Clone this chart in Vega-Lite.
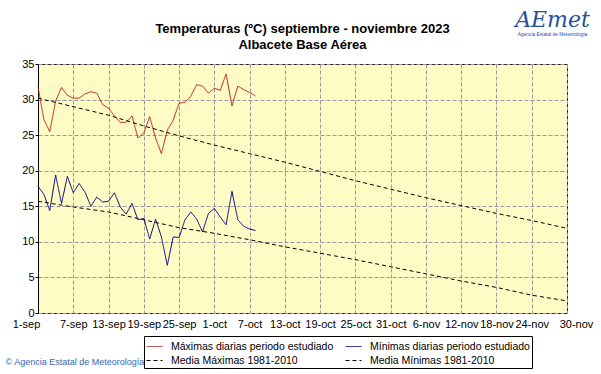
{
  "$schema": "https://vega.github.io/schema/vega-lite/v6.json",
  "autosize": "none",
  "width": 529,
  "height": 249,
  "padding": {"left": 38, "top": 64, "right": 34, "bottom": 61},
  "background": "white",
  "config": {
    "font": "Liberation Sans",
    "view": {"fill": "#FFFBC4", "stroke": "black", "strokeWidth": 1},
    "axis": {
      "gridColor": "#9a9a9a",
      "gridDash": [4, 2],
      "gridWidth": 1,
      "labelFontSize": 11,
      "labelColor": "black",
      "domainColor": "black",
      "tickColor": "black"
    },
    "legend": {
      "orient": "none",
      "legendX": 106,
      "legendY": 272,
      "columns": 2,
      "columnPadding": 9,
      "rowPadding": 0,
      "padding": 2,
      "strokeColor": "black",
      "fillColor": "white",
      "symbolType": "stroke",
      "symbolSize": 256,
      "symbolStrokeWidth": 1,
      "labelFontSize": 10.5,
      "labelColor": "black",
      "labelOffset": 8,
      "labelLimit": 300
    },
    "title": {
      "font": "Liberation Sans",
      "fontSize": 13,
      "fontWeight": "bold",
      "color": "black",
      "lineHeight": 16,
      "frame": "group",
      "anchor": "middle",
      "offset": -44
    }
  },
  "title": {"text": ["Temperaturas (ºC) septiembre - noviembre 2023", "Albacete Base Aérea"]},
  "datasets": {
    "obs": [
      {"fecha": "2023-09-01", "serie": "Máximas diarias periodo estudiado", "temp": 31.8},
      {"fecha": "2023-09-02", "serie": "Máximas diarias periodo estudiado", "temp": 27.2},
      {"fecha": "2023-09-03", "serie": "Máximas diarias periodo estudiado", "temp": 25.5},
      {"fecha": "2023-09-04", "serie": "Máximas diarias periodo estudiado", "temp": 29.8},
      {"fecha": "2023-09-05", "serie": "Máximas diarias periodo estudiado", "temp": 31.7},
      {"fecha": "2023-09-06", "serie": "Máximas diarias periodo estudiado", "temp": 30.6},
      {"fecha": "2023-09-07", "serie": "Máximas diarias periodo estudiado", "temp": 30.2},
      {"fecha": "2023-09-08", "serie": "Máximas diarias periodo estudiado", "temp": 30.2},
      {"fecha": "2023-09-09", "serie": "Máximas diarias periodo estudiado", "temp": 30.8},
      {"fecha": "2023-09-10", "serie": "Máximas diarias periodo estudiado", "temp": 31.1},
      {"fecha": "2023-09-11", "serie": "Máximas diarias periodo estudiado", "temp": 30.9},
      {"fecha": "2023-09-12", "serie": "Máximas diarias periodo estudiado", "temp": 29.3},
      {"fecha": "2023-09-13", "serie": "Máximas diarias periodo estudiado", "temp": 28.8},
      {"fecha": "2023-09-14", "serie": "Máximas diarias periodo estudiado", "temp": 27.7},
      {"fecha": "2023-09-15", "serie": "Máximas diarias periodo estudiado", "temp": 26.8},
      {"fecha": "2023-09-16", "serie": "Máximas diarias periodo estudiado", "temp": 26.8},
      {"fecha": "2023-09-17", "serie": "Máximas diarias periodo estudiado", "temp": 27.7},
      {"fecha": "2023-09-18", "serie": "Máximas diarias periodo estudiado", "temp": 24.6},
      {"fecha": "2023-09-19", "serie": "Máximas diarias periodo estudiado", "temp": 25.3},
      {"fecha": "2023-09-20", "serie": "Máximas diarias periodo estudiado", "temp": 27.6},
      {"fecha": "2023-09-21", "serie": "Máximas diarias periodo estudiado", "temp": 24.6},
      {"fecha": "2023-09-22", "serie": "Máximas diarias periodo estudiado", "temp": 22.4},
      {"fecha": "2023-09-23", "serie": "Máximas diarias periodo estudiado", "temp": 25.7},
      {"fecha": "2023-09-24", "serie": "Máximas diarias periodo estudiado", "temp": 27.1},
      {"fecha": "2023-09-25", "serie": "Máximas diarias periodo estudiado", "temp": 29.5},
      {"fecha": "2023-09-26", "serie": "Máximas diarias periodo estudiado", "temp": 29.6},
      {"fecha": "2023-09-27", "serie": "Máximas diarias periodo estudiado", "temp": 30.5},
      {"fecha": "2023-09-28", "serie": "Máximas diarias periodo estudiado", "temp": 32.1},
      {"fecha": "2023-09-29", "serie": "Máximas diarias periodo estudiado", "temp": 31.9},
      {"fecha": "2023-09-30", "serie": "Máximas diarias periodo estudiado", "temp": 30.9},
      {"fecha": "2023-10-01", "serie": "Máximas diarias periodo estudiado", "temp": 31.6},
      {"fecha": "2023-10-02", "serie": "Máximas diarias periodo estudiado", "temp": 31.3},
      {"fecha": "2023-10-03", "serie": "Máximas diarias periodo estudiado", "temp": 33.6},
      {"fecha": "2023-10-04", "serie": "Máximas diarias periodo estudiado", "temp": 29.1},
      {"fecha": "2023-10-05", "serie": "Máximas diarias periodo estudiado", "temp": 31.9},
      {"fecha": "2023-10-06", "serie": "Máximas diarias periodo estudiado", "temp": 31.4},
      {"fecha": "2023-10-07", "serie": "Máximas diarias periodo estudiado", "temp": 31.0},
      {"fecha": "2023-10-08", "serie": "Máximas diarias periodo estudiado", "temp": 30.5},
      {"fecha": "2023-09-01", "serie": "Mínimas diarias periodo estudiado", "temp": 17.8},
      {"fecha": "2023-09-02", "serie": "Mínimas diarias periodo estudiado", "temp": 16.7},
      {"fecha": "2023-09-03", "serie": "Mínimas diarias periodo estudiado", "temp": 14.4},
      {"fecha": "2023-09-04", "serie": "Mínimas diarias periodo estudiado", "temp": 19.4},
      {"fecha": "2023-09-05", "serie": "Mínimas diarias periodo estudiado", "temp": 15.4},
      {"fecha": "2023-09-06", "serie": "Mínimas diarias periodo estudiado", "temp": 19.2},
      {"fecha": "2023-09-07", "serie": "Mínimas diarias periodo estudiado", "temp": 16.9},
      {"fecha": "2023-09-08", "serie": "Mínimas diarias periodo estudiado", "temp": 18.2},
      {"fecha": "2023-09-09", "serie": "Mínimas diarias periodo estudiado", "temp": 17.0},
      {"fecha": "2023-09-10", "serie": "Mínimas diarias periodo estudiado", "temp": 15.0},
      {"fecha": "2023-09-11", "serie": "Mínimas diarias periodo estudiado", "temp": 16.3},
      {"fecha": "2023-09-12", "serie": "Mínimas diarias periodo estudiado", "temp": 15.6},
      {"fecha": "2023-09-13", "serie": "Mínimas diarias periodo estudiado", "temp": 15.7},
      {"fecha": "2023-09-14", "serie": "Mínimas diarias periodo estudiado", "temp": 16.9},
      {"fecha": "2023-09-15", "serie": "Mínimas diarias periodo estudiado", "temp": 14.9},
      {"fecha": "2023-09-16", "serie": "Mínimas diarias periodo estudiado", "temp": 13.9},
      {"fecha": "2023-09-17", "serie": "Mínimas diarias periodo estudiado", "temp": 15.4},
      {"fecha": "2023-09-18", "serie": "Mínimas diarias periodo estudiado", "temp": 13.1},
      {"fecha": "2023-09-19", "serie": "Mínimas diarias periodo estudiado", "temp": 13.3},
      {"fecha": "2023-09-20", "serie": "Mínimas diarias periodo estudiado", "temp": 10.4},
      {"fecha": "2023-09-21", "serie": "Mínimas diarias periodo estudiado", "temp": 13.2},
      {"fecha": "2023-09-22", "serie": "Mínimas diarias periodo estudiado", "temp": 10.7},
      {"fecha": "2023-09-23", "serie": "Mínimas diarias periodo estudiado", "temp": 6.7},
      {"fecha": "2023-09-24", "serie": "Mínimas diarias periodo estudiado", "temp": 10.7},
      {"fecha": "2023-09-25", "serie": "Mínimas diarias periodo estudiado", "temp": 10.6},
      {"fecha": "2023-09-26", "serie": "Mínimas diarias periodo estudiado", "temp": 13.1},
      {"fecha": "2023-09-27", "serie": "Mínimas diarias periodo estudiado", "temp": 14.2},
      {"fecha": "2023-09-28", "serie": "Mínimas diarias periodo estudiado", "temp": 13.2},
      {"fecha": "2023-09-29", "serie": "Mínimas diarias periodo estudiado", "temp": 11.4},
      {"fecha": "2023-09-30", "serie": "Mínimas diarias periodo estudiado", "temp": 14.0},
      {"fecha": "2023-10-01", "serie": "Mínimas diarias periodo estudiado", "temp": 14.7},
      {"fecha": "2023-10-02", "serie": "Mínimas diarias periodo estudiado", "temp": 13.5},
      {"fecha": "2023-10-03", "serie": "Mínimas diarias periodo estudiado", "temp": 12.4},
      {"fecha": "2023-10-04", "serie": "Mínimas diarias periodo estudiado", "temp": 17.1},
      {"fecha": "2023-10-05", "serie": "Mínimas diarias periodo estudiado", "temp": 13.1},
      {"fecha": "2023-10-06", "serie": "Mínimas diarias periodo estudiado", "temp": 12.2},
      {"fecha": "2023-10-07", "serie": "Mínimas diarias periodo estudiado", "temp": 11.8},
      {"fecha": "2023-10-08", "serie": "Mínimas diarias periodo estudiado", "temp": 11.6}
    ],
    "norm": [
      {"fecha": "2023-09-01", "serie": "Media Máximas 1981-2010", "temp": 30.2},
      {"fecha": "2023-09-07", "serie": "Media Máximas 1981-2010", "temp": 29.0},
      {"fecha": "2023-09-13", "serie": "Media Máximas 1981-2010", "temp": 27.8},
      {"fecha": "2023-09-19", "serie": "Media Máximas 1981-2010", "temp": 26.3},
      {"fecha": "2023-09-25", "serie": "Media Máximas 1981-2010", "temp": 24.9},
      {"fecha": "2023-10-01", "serie": "Media Máximas 1981-2010", "temp": 23.6},
      {"fecha": "2023-10-07", "serie": "Media Máximas 1981-2010", "temp": 22.4},
      {"fecha": "2023-10-13", "serie": "Media Máximas 1981-2010", "temp": 21.2},
      {"fecha": "2023-10-19", "serie": "Media Máximas 1981-2010", "temp": 19.9},
      {"fecha": "2023-10-25", "serie": "Media Máximas 1981-2010", "temp": 18.6},
      {"fecha": "2023-10-31", "serie": "Media Máximas 1981-2010", "temp": 17.4},
      {"fecha": "2023-11-06", "serie": "Media Máximas 1981-2010", "temp": 16.2},
      {"fecha": "2023-11-12", "serie": "Media Máximas 1981-2010", "temp": 15.1},
      {"fecha": "2023-11-18", "serie": "Media Máximas 1981-2010", "temp": 14.0},
      {"fecha": "2023-11-24", "serie": "Media Máximas 1981-2010", "temp": 13.0},
      {"fecha": "2023-11-30", "serie": "Media Máximas 1981-2010", "temp": 11.9},
      {"fecha": "2023-09-01", "serie": "Media Mínimas 1981-2010", "temp": 15.7},
      {"fecha": "2023-09-07", "serie": "Media Mínimas 1981-2010", "temp": 14.9},
      {"fecha": "2023-09-13", "serie": "Media Mínimas 1981-2010", "temp": 14.2},
      {"fecha": "2023-09-19", "serie": "Media Mínimas 1981-2010", "temp": 13.1},
      {"fecha": "2023-09-25", "serie": "Media Mínimas 1981-2010", "temp": 12.0},
      {"fecha": "2023-10-01", "serie": "Media Mínimas 1981-2010", "temp": 11.2},
      {"fecha": "2023-10-07", "serie": "Media Mínimas 1981-2010", "temp": 10.3},
      {"fecha": "2023-10-13", "serie": "Media Mínimas 1981-2010", "temp": 9.3},
      {"fecha": "2023-10-19", "serie": "Media Mínimas 1981-2010", "temp": 8.4},
      {"fecha": "2023-10-25", "serie": "Media Mínimas 1981-2010", "temp": 7.5},
      {"fecha": "2023-10-31", "serie": "Media Mínimas 1981-2010", "temp": 6.5},
      {"fecha": "2023-11-06", "serie": "Media Mínimas 1981-2010", "temp": 5.5},
      {"fecha": "2023-11-12", "serie": "Media Mínimas 1981-2010", "temp": 4.5},
      {"fecha": "2023-11-18", "serie": "Media Mínimas 1981-2010", "temp": 3.6},
      {"fecha": "2023-11-24", "serie": "Media Mínimas 1981-2010", "temp": 2.5},
      {"fecha": "2023-11-30", "serie": "Media Mínimas 1981-2010", "temp": 1.7}
    ]
  },
  "encoding": {
    "x": {
      "field": "fecha",
      "type": "temporal",
      "scale": {"type": "utc", "domain": [1693526400000, 1701302400000]},
      "axis": {
        "values": [1693526400000, 1694044800000, 1694563200000, 1695081600000, 1695600000000, 1696118400000, 1696636800000, 1697155200000, 1697673600000, 1698192000000, 1698710400000, 1699228800000, 1699747200000, 1700265600000, 1700784000000, 1701302400000],
        "labelExpr": "utcFormat(datum.value, '%-d') + '-' + lower(utcFormat(datum.value, '%b'))",
        "labelOverlap": false,
        "labelFlush": false,
        "labelOffset": {"condition": [{"test": "datum.value < 1693600000000", "value": -12}, {"test": "datum.value > 1701000000000", "value": 9}], "value": 0},
        "tickSize": 0,
        "labelPadding": 5,
        "grid": true,
        "domain": false,
        "title": "© Agencia Estatal de Meteorología",
        "titleX": -33,
        "titleY": 51,
        "titleAlign": "left",
        "titleAnchor": "start",
        "titleBaseline": "alphabetic",
        "titleFontSize": 9,
        "titleFontWeight": "normal",
        "titleColor": "#3568B0"
      }
    },
    "color": {
      "field": "serie",
      "type": "nominal",
      "scale": {
        "domain": ["Máximas diarias periodo estudiado", "Media Máximas 1981-2010", "Mínimas diarias periodo estudiado", "Media Mínimas 1981-2010"],
        "range": ["#B22222", "#000000", "#000080", "#000000"]
      },
      "legend": {"title": null}
    },
    "strokeDash": {
      "field": "serie",
      "type": "nominal",
      "scale": {
        "domain": ["Máximas diarias periodo estudiado", "Media Máximas 1981-2010", "Mínimas diarias periodo estudiado", "Media Mínimas 1981-2010"],
        "range": [[1, 0], [4, 3], [1, 0], [4, 3]]
      },
      "legend": {"title": null}
    }
  },
  "layer": [
    {
      "data": {"name": "obs"},
      "mark": {"type": "line", "strokeWidth": 1},
      "encoding": {
        "y": {
          "field": "temp",
          "type": "quantitative",
          "scale": {"domain": [0, 35], "nice": false, "zero": false},
          "axis": {
            "values": [0, 5, 10, 15, 20, 25, 30, 35],
            "grid": true,
            "tickSize": 3,
            "labelPadding": 1,
            "title": "AEmet",
            "titleAngle": 0,
            "titleX": 514,
            "titleY": -38,
            "titleAlign": "center",
            "titleBaseline": "alphabetic",
            "titleFont": "DejaVu Serif",
            "titleFontSize": 22,
            "titleFontStyle": "italic",
            "titleFontWeight": "normal",
            "titleColor": "#27509B"
          }
        }
      }
    },
    {
      "data": {"name": "norm"},
      "mark": {"type": "line", "strokeWidth": 1},
      "encoding": {
        "y": {
          "field": "temp",
          "type": "quantitative",
          "scale": {"domain": [0, 35], "nice": false, "zero": false},
          "axis": {
            "orient": "right",
            "grid": false,
            "labels": false,
            "ticks": false,
            "domain": false,
            "title": "Agencia Estatal de Meteorología",
            "titleAngle": 0,
            "titleX": -15,
            "titleY": -29,
            "titleAlign": "center",
            "titleBaseline": "alphabetic",
            "titleFontSize": 4.8,
            "titleFontWeight": "normal",
            "titleColor": "#27509B"
          }
        }
      }
    }
  ],
  "resolve": {"axis": {"y": "independent"}}
}
